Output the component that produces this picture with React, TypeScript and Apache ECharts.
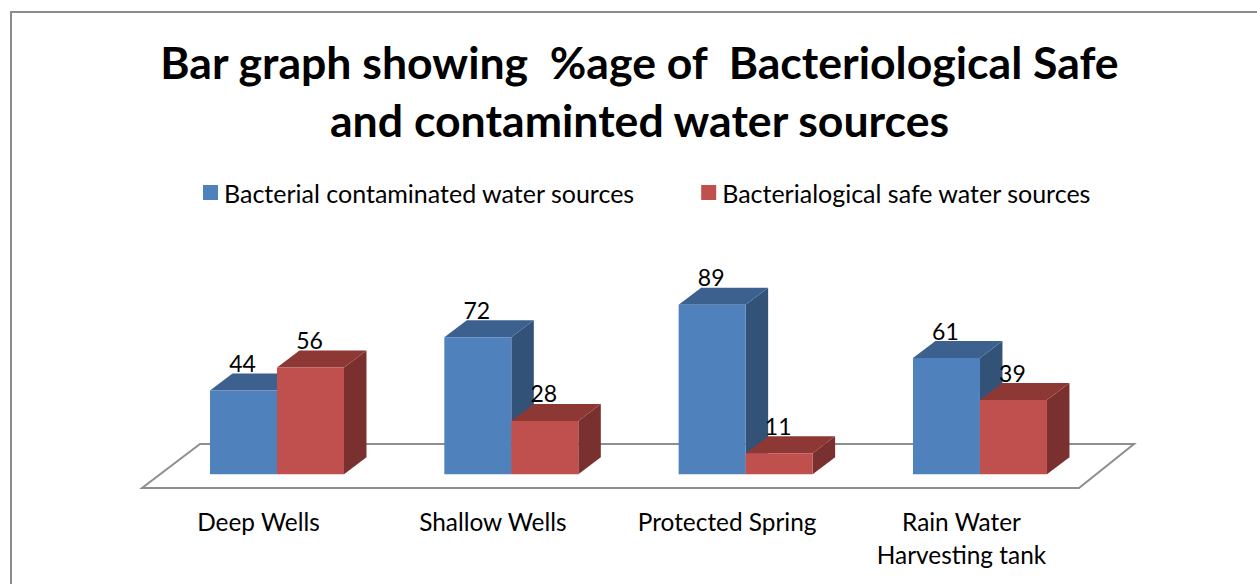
import React, { useEffect, useRef } from "react";
import * as echarts from "echarts";

const categories = ["Deep Wells", "Shallow Wells", "Protected Spring", "Rain Water\nHarvesting tank"];
const contaminated = [44, 72, 89, 61];
const safe = [56, 28, 11, 39];
const seriesNames = ["Bacterial contaminated water sources", "Bacterialogical safe water sources"];
const titleText = "Bar graph showing  %age of  Bacteriological Safe\nand contaminted water sources";

const FONT = "Lato";
const BAR_W = 67;
const DEPTH_X = 22.5;
const DEPTH_Y = 17;

// Extruded column: top and side faces behind the front face, value label above the back edge.
const column3d = (front: string, top: string, side: string, offset: number) => (params: any, api: any) => {
  const base = api.coord([api.value(0), 0]);
  const head = api.coord([api.value(0), api.value(1)]);
  const x0 = base[0] + offset;
  const x1 = x0 + BAR_W;
  const yb = base[1];
  const yt = head[1];
  return {
    type: "group",
    children: [
      {
        type: "polygon",
        shape: { points: [[x1, yb], [x1, yt], [x1 + DEPTH_X, yt - DEPTH_Y], [x1 + DEPTH_X, yb - DEPTH_Y]] },
        style: { fill: side },
      },
      {
        type: "polygon",
        shape: { points: [[x0, yt], [x1, yt], [x1 + DEPTH_X, yt - DEPTH_Y], [x0 + DEPTH_X, yt - DEPTH_Y]] },
        style: { fill: top },
      },
      {
        type: "rect",
        shape: { x: x0, y: yt, width: BAR_W, height: yb - yt },
        style: { fill: front },
      },
      {
        type: "text",
        x: x0 + BAR_W / 2 - 1,
        y: yt - DEPTH_Y + 1,
        style: {
          text: String(api.value(1)),
          fill: "#000",
          font: `23px ${FONT}`,
          align: "center",
          verticalAlign: "bottom",
        },
      },
    ],
  };
};

export default function App() {
  const ref = useRef<HTMLDivElement>(null);

  useEffect(() => {
    const chart = echarts.init(ref.current!, undefined, { renderer: "svg" });
    chart.setOption({
      animation: false,
      backgroundColor: "#fff",
      title: {
        text: titleText,
        left: 634.5,
        top: 27,
        textAlign: "center",
        textStyle: { fontFamily: FONT, fontWeight: "bold", fontSize: 44.6, lineHeight: 58, color: "#000" },
      },
      legend: {
        left: 198,
        top: 175,
        icon: "rect",
        itemWidth: 15,
        itemHeight: 15,
        itemGap: 66,
        textStyle: { fontFamily: FONT, fontSize: 25, color: "#000", padding: [0, 0, 0, 1] },
        data: seriesNames,
      },
      grid: { left: 159.83, width: 937.3, top: 283.8, height: 190.5 },
      xAxis: {
        type: "category",
        data: categories,
        axisLine: { show: false },
        axisTick: { show: false },
        axisLabel: {
          interval: 0,
          margin: 31,
          fontFamily: FONT,
          fontSize: 24.4,
          lineHeight: 33,
          color: "#000",
          padding: [0, 37, 0, 0],
        },
      },
      yAxis: { type: "value", min: 0, max: 100, show: false },
      graphic: [
        {
          type: "polyline",
          shape: { points: [[11, 640], [11, 12], [1270, 12]] },
          style: { fill: "none", stroke: "#8c8c8c", lineWidth: 2 },
        },
        {
          type: "polygon",
          shape: { points: [[142, 488], [200, 444], [1134, 444], [1079, 488]] },
          style: { fill: "none", stroke: "#8e8e8e", lineWidth: 2 },
        },
      ],
      series: [
        {
          name: seriesNames[0],
          type: "custom",
          itemStyle: { color: "#4f81bd" },
          renderItem: column3d("#4f81bd", "#3d618f", "#325278", -BAR_W),
          data: contaminated.map((v, i) => [i, v]),
        },
        {
          name: seriesNames[1],
          type: "custom",
          itemStyle: { color: "#c0504d" },
          renderItem: column3d("#c0504d", "#8e3836", "#7a302e", 0),
          data: safe.map((v, i) => [i, v]),
        },
      ],
    });
    return () => chart.dispose();
  }, []);

  return <div ref={ref} style={{ position: "fixed", left: 0, top: 0, width: 1257, height: 584 }} />;
}
